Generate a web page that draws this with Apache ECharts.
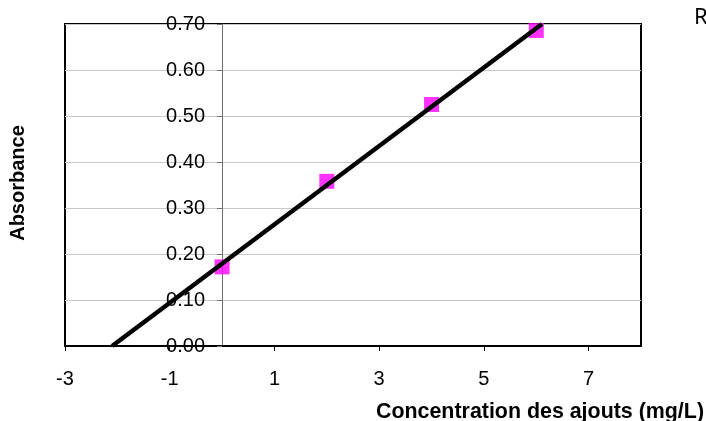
<!DOCTYPE html>
<html><head><meta charset="utf-8">
<script src="https://cdn.jsdelivr.net/npm/echarts@6/dist/echarts.min.js"></script>
<style>html,body{margin:0;padding:0;background:#fff}#c{width:706px;height:421px}</style>
</head><body><div id="c"></div>
<script>
const xValues = [0, 2, 4, 6];
const absorbance = [0.172, 0.358, 0.525, 0.686];
const trendX = [-2.1, 6.11];
const trendY = [0, 0.70];
const xTicks = [-3, -1, 1, 3, 5, 7];
const xTitle = 'Concentration des ajouts (mg/L)';
const yTitle = 'Absorbance';

const chart = echarts.init(document.getElementById('c'));
const font = 'Liberation Sans, Arial, sans-serif';
const gridLeft = 65, gridWidth = 576, xMin = -3, xMax = 8;
const yAxisOffset = -Math.round((0 - xMin) / (xMax - xMin) * gridWidth);
chart.setOption({
  animation: false,
  grid: {left: gridLeft, top: 24, width: gridWidth, height: 322, show: true, borderColor: '#000', borderWidth: 2, backgroundColor: 'transparent'},
  xAxis: {
    type: 'value', min: xMin, max: xMax,
    axisLine: {onZero: false, lineStyle: {color: '#000', width: 2}},
    axisTick: {show: true, length: 5, customValues: xTicks, lineStyle: {color: '#000'}},
    axisLabel: {customValues: xTicks, margin: 23, fontFamily: font, fontSize: 20, color: '#000'},
    splitLine: {show: false}
  },
  yAxis: {
    type: 'value', min: 0, max: 0.7, interval: 0.1, offset: yAxisOffset,
    axisLine: {show: true, onZero: false, lineStyle: {color: '#707070', width: 1}},
    axisTick: {show: true, length: 5, lineStyle: {color: '#707070'}},
    axisLabel: {margin: 17, fontFamily: font, fontSize: 20, color: '#000', formatter: v => v.toFixed(2), padding: [3, 0, 0, 0]},
    splitLine: {show: true, lineStyle: {color: '#c8c8c8', width: 1}}
  },
  series: [
    {type: 'scatter', data: xValues.map((x, i) => [x, absorbance[i]]), symbol: 'rect', symbolSize: 15,
     itemStyle: {color: '#FF00FF'}, z: 2},
    {type: 'line', data: trendX.map((x, i) => [x, trendY[i]]), showSymbol: false, symbol: 'none',
     lineStyle: {color: '#000', width: 4.5}, z: 3}
  ],
  graphic: [
    {type: 'text', x: 18, y: 183, rotation: Math.PI / 2, style: {text: yTitle, font: 'bold 20px ' + font, fill: '#000', align: 'center', verticalAlign: 'middle'}},
    {type: 'text', x: 704, y: 412, style: {text: xTitle, font: 'bold 21.4px ' + font, fill: '#000', align: 'right', verticalAlign: 'middle'}},
    {type: 'text', x: 694, y: 18, style: {text: 'R', font: '22px Noto Sans, sans-serif', fill: '#000', align: 'left', verticalAlign: 'middle'}}
  ]
});
</script></body></html>
